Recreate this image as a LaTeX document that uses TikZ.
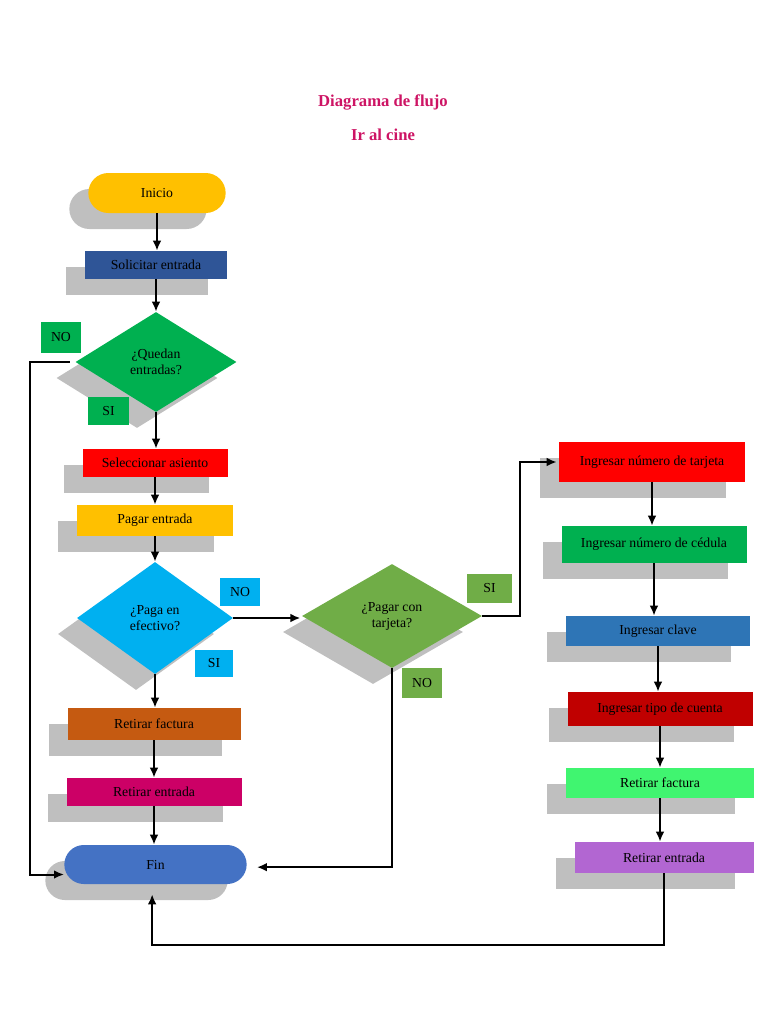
\documentclass[tikz,border=0pt]{standalone}
\usepackage{fontspec}
\setmainfont{Liberation Serif}
\usetikzlibrary{shapes.geometric,shapes.misc,shadows,arrows.meta}

\definecolor{naranja}{RGB}{255,192,0}
\definecolor{azulosc}{RGB}{47,85,151}
\definecolor{verde}{RGB}{0,176,80}
\definecolor{rojo}{RGB}{255,0,0}
\definecolor{cian}{RGB}{0,176,240}
\definecolor{oliva}{RGB}{112,173,71}
\definecolor{cafe}{RGB}{197,90,17}
\definecolor{fucsia}{RGB}{204,0,102}
\definecolor{azulfin}{RGB}{68,114,196}
\definecolor{azulclave}{RGB}{46,117,182}
\definecolor{rojoosc}{RGB}{192,0,0}
\definecolor{verdeclaro}{RGB}{64,245,112}
\definecolor{morado}{RGB}{178,102,210}
\definecolor{sombra}{RGB}{191,191,191}
\definecolor{titulo}{RGB}{205,20,100}

\tikzstyle{sombreado} = [general shadow={fill=sombra, shadow xshift=-14.25pt, shadow yshift=-12pt}]
\tikzstyle{caja} = [rectangle, sombreado, inner sep=1pt, font=\fontsize{10.3}{12}\selectfont]
\tikzstyle{terminal} = [rounded rectangle, sombreado, inner sep=1pt, font=\fontsize{10.3}{12}\selectfont]
\tikzstyle{decision} = [diamond, sombreado, inner sep=0pt, align=center, font=\fontsize{10.3}{12}\selectfont]
\tikzstyle{etiqueta} = [rectangle, inner sep=0pt, font=\fontsize{10.3}{12}\selectfont]
\tikzstyle{flecha} = [line width=1.5pt, -{Latex[length=7.5pt,width=6.5pt]}]

\begin{document}
\begin{tikzpicture}[x=0.75pt,y=-0.75pt]
\useasboundingbox (0,0) rectangle (768,1024);

\node[text=titulo, font=\fontsize{12.5}{15}\bfseries] (tit1) at (383,102) {Diagrama de flujo};
\node[text=titulo, font=\fontsize{12.5}{15}\bfseries] (tit2) at (383,135) {Ir al cine};

% columna izquierda
\node[terminal, fill=naranja, minimum width=105pt, minimum height=30pt] (inicio) at (157,193) {Inicio};
\node[caja, fill=azulosc, minimum width=106.5pt, minimum height=21pt] (solicitar) at (156,265) {Solicitar entrada};
\node[decision, fill=verde, minimum width=120.75pt, minimum height=75pt] (quedan) at (156,362) {¿Quedan\\entradas?};
\node[caja, fill=rojo, minimum width=108.75pt, minimum height=21pt] (asiento) at (155,463) {Seleccionar asiento};
\node[caja, fill=naranja, minimum width=117pt, minimum height=23.25pt] (pagar) at (155,520.5) {Pagar entrada};
\node[decision, fill=cian, minimum width=117pt, minimum height=84pt] (efectivo) at (155,618) {¿Paga en\\efectivo?};
\node[caja, fill=cafe, minimum width=129.75pt, minimum height=24pt] (facturaI) at (154,724) {Retirar factura};
\node[caja, fill=fucsia, minimum width=131.25pt, minimum height=21pt] (entradaI) at (154,792) {Retirar entrada};
\node[terminal, fill=azulfin, minimum width=138.75pt, minimum height=29.25pt] (fin) at (155.5,864.5) {Fin};

% pago con tarjeta
\node[decision, fill=oliva, minimum width=135pt, minimum height=78pt] (tarjeta) at (392,616) {¿Pagar con\\tarjeta?};

% columna derecha
\node[caja, fill=rojo, minimum width=139.5pt, minimum height=30pt] (numero) at (652,462) {Ingresar número de tarjeta};
\node[caja, fill=verde, minimum width=138.75pt, minimum height=27.75pt] (cedula) at (654,544.5) {Ingresar número de cédula};
\node[caja, fill=azulclave, minimum width=138pt, minimum height=22.5pt] (clave) at (658,631) {Ingresar clave};
\node[caja, fill=rojoosc, minimum width=138.75pt, minimum height=25.5pt] (cuenta) at (660,709) {Ingresar tipo de cuenta};
\node[caja, fill=verdeclaro, minimum width=141pt, minimum height=22.5pt] (facturaD) at (660,783) {Retirar factura};
\node[caja, fill=morado, minimum width=134.25pt, minimum height=23.25pt] (entradaD) at (664,857.5) {Retirar entrada};

% etiquetas
\node[etiqueta, fill=verde, minimum width=30pt, minimum height=23.25pt] (noQ) at (61,337.5) {NO};
\node[etiqueta, fill=verde, minimum width=30.75pt, minimum height=21pt] (siQ) at (108.5,411) {SI};
\node[etiqueta, fill=cian, minimum width=30pt, minimum height=21pt] (noE) at (240,592) {NO};
\node[etiqueta, fill=cian, minimum width=28.5pt, minimum height=20.25pt] (siE) at (214,663.5) {SI};
\node[etiqueta, fill=oliva, minimum width=33.75pt, minimum height=21.75pt] (siT) at (489.5,588.5) {SI};
\node[etiqueta, fill=oliva, minimum width=30pt, minimum height=22.5pt] (noT) at (422,683) {NO};

\coordinate (abajo) at (0,945);

% conectores
\draw[flecha] (inicio.south) -- (inicio.south |- solicitar.north);
\draw[flecha] (solicitar) -- (solicitar |- quedan.north);
\draw[flecha] (quedan) -- (quedan |- asiento.north);
\draw[flecha] (asiento) -- (asiento |- pagar.north);
\draw[flecha] (pagar) -- (pagar |- efectivo.north);
\draw[flecha] (efectivo) -- (efectivo |- facturaI.north);
\draw[flecha] (facturaI) -- (facturaI |- entradaI.north);
\draw[flecha] (entradaI) -- (entradaI |- fin.north);
\draw[flecha] ([xshift=-4pt]quedan.west) -- ++(-40,0) |- ([yshift=-7.5pt]fin.west);
\draw[flecha] (efectivo.east) -- ([xshift=-1pt]efectivo.east -| tarjeta.west);
\draw[flecha] (tarjeta.east) -- ++(38,0) |- ([xshift=-1.5pt]numero.west);
\draw[flecha, shorten >=7.5pt] (tarjeta.south) |- ([yshift=-2pt]fin.east);
\draw[flecha] (numero) -- (numero |- cedula.north);
\draw[flecha] (cedula) -- (cedula |- clave.north);
\draw[flecha] (clave) -- (clave |- cuenta.north);
\draw[flecha] (cuenta) -- (cuenta |- facturaD.north);
\draw[flecha] (facturaD) -- (facturaD |- entradaD.north);
\draw[flecha, shorten >=7.5pt] (entradaD.south) -- (entradaD.south |- abajo) -| ([xshift=-2.5pt]fin.south);
\end{tikzpicture}
\end{document}
